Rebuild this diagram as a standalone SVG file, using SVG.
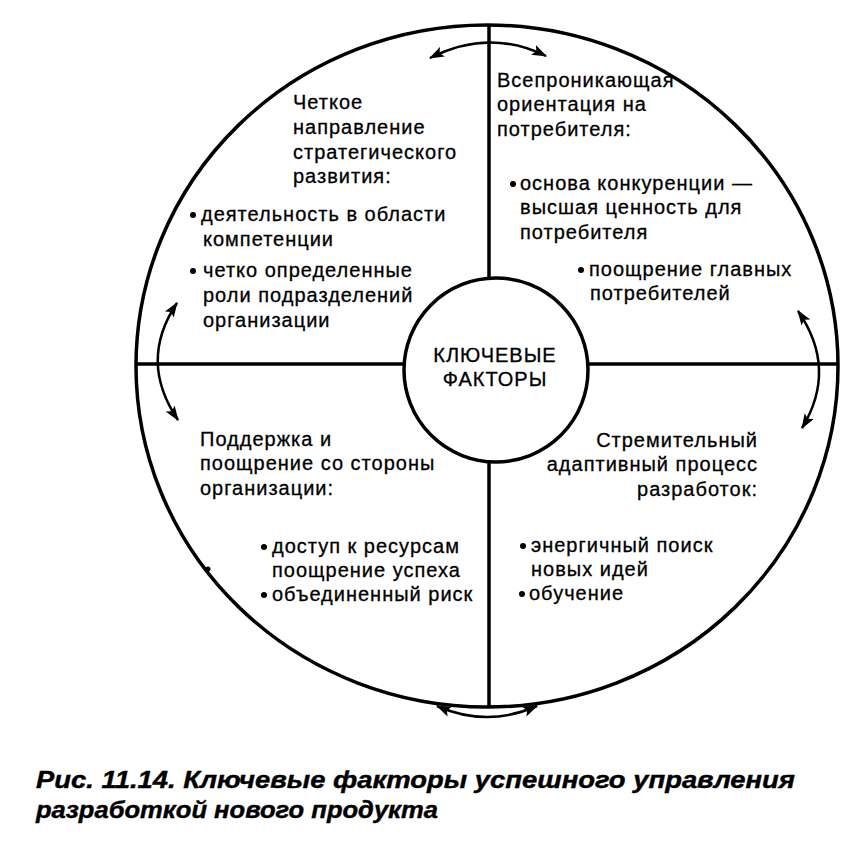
<svg xmlns="http://www.w3.org/2000/svg" width="855" height="841" viewBox="0 0 855 841">
<defs>
<marker id="ah" viewBox="0 0 14 10" refX="13" refY="5" markerWidth="15" markerHeight="11" markerUnits="userSpaceOnUse" orient="auto-start-reverse">
<path d="M0,0 L14,5 L0,10 L3,5 Z" fill="#000"/>
</marker>
<style>
.t{font-family:"Liberation Sans",Arial,sans-serif;font-size:20px;letter-spacing:1px;fill:#000;stroke:#000;stroke-width:0.3px}
.c{font-family:"Liberation Sans",Arial,sans-serif;font-size:23px;font-weight:bold;font-style:italic;fill:#000;stroke:#000;stroke-width:0.4px}
.arc{fill:none;stroke:#000;stroke-width:2.5;marker-start:url(#ah);marker-end:url(#ah)}
.ln{stroke:#000;stroke-width:3.5;fill:none}
.dot{fill:#000}
</style>
</defs>
<rect width="855" height="841" fill="#fff"/>
<g id="outer">
<ellipse cx="487" cy="366" rx="351" ry="341" class="ln" stroke-width="4.5"/>
<line x1="489" y1="25" x2="489" y2="285" class="ln"/>
<line x1="489" y1="456" x2="489" y2="707" class="ln"/>
<line x1="136" y1="364" x2="404" y2="364" class="ln"/>
<line x1="589" y1="364" x2="838" y2="364" class="ln"/>
<circle cx="208" cy="569" r="2.5" class="dot"/>
</g>
<g id="center">
<circle cx="496" cy="370" r="92" fill="#fff" stroke="#000" stroke-width="3.5"/>
<text class="t" x="495" y="362" text-anchor="middle">КЛЮЧЕВЫЕ</text>
<text class="t" x="495" y="386" text-anchor="middle">ФАКТОРЫ</text>
</g>
<g id="connectors">
<path class="arc" d="M430,58 Q489,28 546,56"/>
<path class="arc" d="M177,303 Q138,361 178,420"/>
<path class="arc" d="M798,311 Q838,369 802,428"/>
<path class="arc" d="M437,706 Q487,728 537,706"/>
</g>
<g id="q1">
<text class="t" x="293" y="109">Четкое</text>
<text class="t" x="293" y="134">направление</text>
<text class="t" x="293" y="159">стратегического</text>
<text class="t" x="293" y="183">развития:</text>
<circle cx="193" cy="215" r="3" class="dot"/>
<text class="t" x="201" y="221">деятельность в области</text>
<text class="t" x="203" y="246">компетенции</text>
<circle cx="193" cy="271" r="3" class="dot"/>
<text class="t" x="203" y="277">четко определенные</text>
<text class="t" x="203" y="302">роли подразделений</text>
<text class="t" x="203" y="327">организации</text>
</g>
<g id="q2">
<text class="t" x="497" y="87">Всепроникающая</text>
<text class="t" x="497" y="111">ориентация на</text>
<text class="t" x="497" y="136">потребителя:</text>
<circle cx="513" cy="184" r="3" class="dot"/>
<text class="t" x="520" y="190">основа конкуренции —</text>
<text class="t" x="520" y="214">высшая ценность для</text>
<text class="t" x="520" y="239">потребителя</text>
<circle cx="581" cy="270" r="3" class="dot"/>
<text class="t" x="589" y="276">поощрение главных</text>
<text class="t" x="590" y="300">потребителей</text>
</g>
<g id="q3">
<text class="t" x="200" y="446">Поддержка и</text>
<text class="t" x="200" y="470">поощрение со стороны</text>
<text class="t" x="200" y="495">организации:</text>
<circle cx="264" cy="547" r="3" class="dot"/>
<text class="t" x="272" y="553">доступ к ресурсам</text>
<text class="t" x="272" y="577">поощрение успеха</text>
<circle cx="264" cy="595" r="3" class="dot"/>
<text class="t" x="272" y="601">объединенный риск</text>
</g>
<g id="q4">
<text class="t" x="758" y="447" text-anchor="end">Стремительный</text>
<text class="t" x="758" y="471" text-anchor="end">адаптивный процесс</text>
<text class="t" x="758" y="496" text-anchor="end">разработок:</text>
<circle cx="523" cy="546" r="3" class="dot"/>
<text class="t" x="531" y="552">энергичный поиск</text>
<text class="t" x="531" y="576">новых идей</text>
<circle cx="522" cy="594" r="3" class="dot"/>
<text class="t" x="529" y="600">обучение</text>
</g>
<g id="caption">
<text class="c" x="36" y="788" textLength="759" lengthAdjust="spacingAndGlyphs">Рис. 11.14. Ключевые факторы успешного управления</text>
<text class="c" x="36" y="818" textLength="402" lengthAdjust="spacingAndGlyphs">разработкой нового продукта</text>
</g>
</svg>
